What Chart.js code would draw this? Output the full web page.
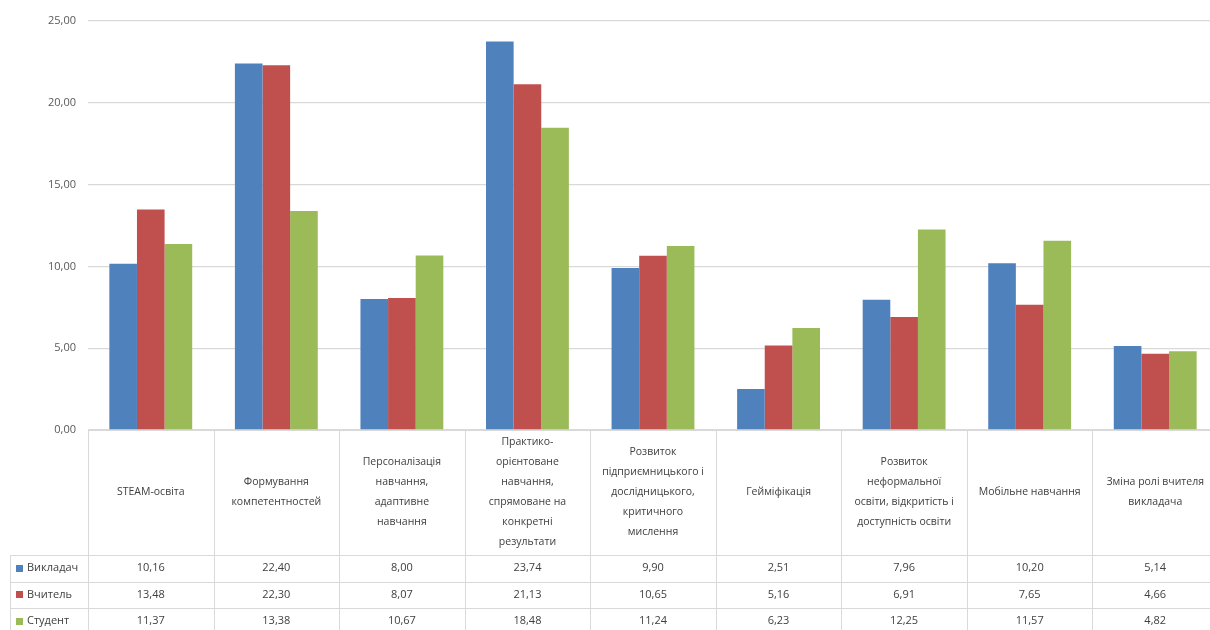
<!DOCTYPE html>
<html lang="uk">
<head>
<meta charset="utf-8">
<script src="https://cdn.jsdelivr.net/npm/chart.js@4/dist/chart.umd.min.js"></script>
<style>
  html, body { margin: 0; padding: 0; background: #ffffff; overflow: hidden; }
  #wrap { position: relative; width: 1218px; height: 630px; }
</style>
</head>
<body>
<div id="wrap"><canvas id="c"></canvas></div>
<script>
// Categories (multi-line labels as shown in the data table)
const categories = [
  ['STEAM-освіта'],
  ['Формування', 'компетентностей'],
  ['Персоналізація', 'навчання,', 'адаптивне', 'навчання'],
  ['Практико-', 'орієнтоване', 'навчання,', 'спрямоване на', 'конкретні', 'результати'],
  ['Розвиток', 'підприємницького і', 'дослідницького,', 'критичного', 'мислення'],
  ['Гейміфікація'],
  ['Розвиток', 'неформальної', 'освіти, відкритість і', 'доступність освіти'],
  ['Мобільне навчання'],
  ['Зміна ролі вчителя', 'викладача']
];

const seriesNames = ['Викладач', 'Вчитель', 'Студент'];
const lecturer = [10.16, 22.40, 8.00, 23.74, 9.90, 2.51, 7.96, 10.20, 5.14];
const teacher  = [13.48, 22.30, 8.07, 21.13, 10.65, 5.16, 6.91, 7.65, 4.66];
const student  = [11.37, 13.38, 10.67, 18.48, 11.24, 6.23, 12.25, 11.57, 4.82];
const seriesColors = ['#4F81BD', '#C0504D', '#9BBB59'];

const yTicks = [0, 5, 10, 15, 20, 25];

const fmt = v => v.toFixed(2).replace('.', ',');
const FONT = '"Open Sans", "Noto Sans", sans-serif';

// Data table drawn under the plot area, aligned to the category scale
const dataTable = {
  id: 'dataTable',
  afterDraw(chart) {
    const ctx = chart.ctx;
    const x = chart.scales.x;
    const area = chart.chartArea;
    const n = categories.length;
    const colW = (area.right - area.left) / n;
    const top = area.bottom;
    const rowTop = 555;
    const rowH = 26.5;
    const legendLeft = 10;
    const bottom = rowTop + rowH * 3 + 2;

    ctx.save();
    ctx.strokeStyle = '#d9d9d9';
    ctx.lineWidth = 1;

    // vertical column borders
    for (let i = 0; i <= n; i++) {
      const px = Math.round(area.left + i * colW) + 0.5;
      ctx.beginPath();
      ctx.moveTo(px, top);
      ctx.lineTo(px, bottom);
      ctx.stroke();
    }
    // legend column left border
    ctx.beginPath();
    ctx.moveTo(legendLeft + 0.5, rowTop);
    ctx.lineTo(legendLeft + 0.5, bottom);
    ctx.stroke();
    // horizontal row borders
    ctx.beginPath();
    ctx.moveTo(area.left, top + 0.5);
    ctx.lineTo(area.right, top + 0.5);
    ctx.stroke();
    for (let r = 0; r <= 3; r++) {
      const py = Math.round(rowTop + r * rowH) + 0.5;
      ctx.beginPath();
      ctx.moveTo(legendLeft, py);
      ctx.lineTo(area.right, py);
      ctx.stroke();
    }

    // category labels
    ctx.fillStyle = '#404040';
    ctx.font = '10.5px ' + FONT;
    ctx.textAlign = 'center';
    ctx.textBaseline = 'middle';
    const lineH = 20;
    const midY = (top + rowTop) / 2 + 0;
    categories.forEach((lines, i) => {
      const cx = x.getPixelForValue(i);
      const y0 = midY - (lines.length - 1) * lineH / 2;
      lines.forEach((t, k) => ctx.fillText(t, cx, y0 + k * lineH));
    });

    // value rows
    const series = [lecturer, teacher, student];
    ctx.font = '11px ' + FONT;
    series.forEach((vals, r) => {
      const cy = rowTop + r * rowH + rowH / 2;
      vals.forEach((v, i) => {
        ctx.fillStyle = '#404040';
        ctx.textAlign = 'center';
        ctx.fillText(fmt(v), x.getPixelForValue(i), cy);
      });
      // legend key + name
      ctx.fillStyle = seriesColors[r];
      ctx.fillRect(16, Math.round(cy - 3.5), 7, 7);
      ctx.fillStyle = '#404040';
      ctx.textAlign = 'left';
      ctx.fillText(seriesNames[r], 27, cy);
    });
    ctx.restore();
  }
};

new Chart(document.getElementById('c'), {
  type: 'bar',
  data: {
    labels: categories.map(l => l.join(' ')),
    datasets: [
      { label: seriesNames[0], data: lecturer, backgroundColor: seriesColors[0] },
      { label: seriesNames[1], data: teacher,  backgroundColor: seriesColors[1] },
      { label: seriesNames[2], data: student,  backgroundColor: seriesColors[2] }
    ]
  },
  options: {
    responsive: true,
    maintainAspectRatio: false,
    animation: false,
    devicePixelRatio: 1,
    categoryPercentage: 0.66,
    barPercentage: 1.0,
    layout: { padding: { top: 21, bottom: 200, left: 0, right: 0 } },
    plugins: {
      legend: { display: false },
      tooltip: { enabled: false }
    },
    scales: {
      x: { display: false },
      y: {
        min: yTicks[0],
        max: yTicks[yTicks.length - 1],
        afterBuildTicks(scale) { scale.ticks = yTicks.map(v => ({ value: v })); },
        afterFit(scale) { scale.width = 88; },
        border: { display: false },
        grid: { color: '#d9d9d9', lineWidth: 1.3, drawTicks: false },
        ticks: {
          padding: 12,
          color: '#595959',
          font: { family: FONT, size: 11 },
          callback: v => fmt(v)
        }
      }
    }
  },
  plugins: [dataTable]
});
</script>
</body>
</html>
